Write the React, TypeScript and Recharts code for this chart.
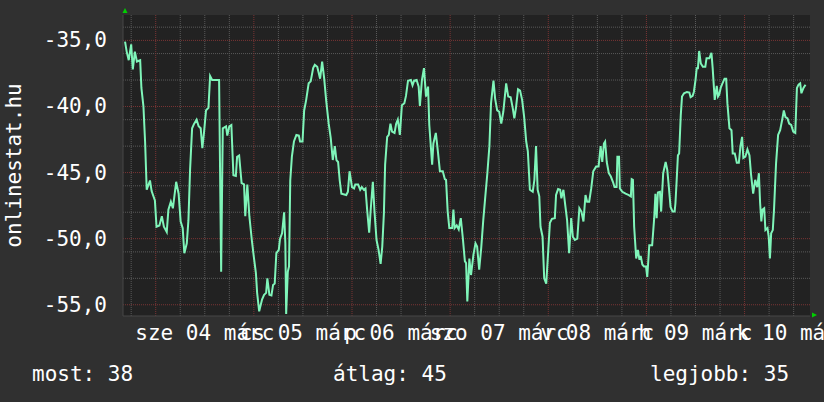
import { LineChart, Line, XAxis, YAxis, CartesianGrid, ReferenceDot } from 'recharts';

// hours from 04 márc 00:00
const hours = [
  -7.5, -7.1, -6.6, -6.0, -5.6, -5.1, -4.6, -3.8, -3.5, -3.0, -2.6, -2.2, -1.4, -1.0, -0.2,
  0.2, 0.9, 1.5, 2.0, 2.7, 3.1, 3.7, 4.2, 5.0, 5.6, 6.1, 6.6, 7.0, 7.6, 8.0, 8.4, 8.9, 9.4,
  10.0, 10.5, 11.0, 11.4, 11.8, 12.3, 12.9, 13.3, 13.8, 15.5, 16.0, 16.4, 17.2, 17.5, 18.0,
  18.5, 19.0, 19.6, 19.9, 20.4, 21.0, 21.6, 21.9, 22.4, 22.9, 23.5, 24.0, 24.5, 24.8, 25.3,
  26.0, 26.5, 27.0, 27.3, 27.8, 28.3, 28.7, 29.1, 29.5, 30.1, 30.4, 30.9, 31.4, 31.7, 31.9,
  32.3, 32.6, 32.9, 33.3, 33.8, 34.4, 35.0, 35.3, 35.9, 36.3, 36.8, 37.4, 37.9, 38.5, 38.9,
  39.5, 40.2, 40.7, 41.2, 41.7, 42.3, 42.8, 43.3, 43.8, 44.2, 44.6, 45.0, 45.4, 46.6, 47.0,
  47.4, 48.0, 48.5, 48.8, 49.5, 50.0, 50.4, 50.9, 51.3, 51.7, 52.2, 52.6, 53.1, 53.5, 54.0,
  54.5, 55.0, 55.4, 55.8, 56.1, 56.6, 57.0, 57.4, 57.8, 58.4, 58.8, 59.2, 59.7,
  60.2, 60.8, 61.2, 61.7, 62.4, 62.8, 63.2, 63.8, 64.3, 64.6, 65.1, 65.6, 66.1, 66.6, 66.9,
  67.6, 67.9, 68.5, 69.0, 69.5, 70.2, 70.7, 71.0, 71.4, 71.8, 72.5, 72.8, 73.1, 73.6, 74.1,
  74.6, 75.1, 75.6, 75.9, 76.2, 76.7, 77.1, 77.7, 78.2, 78.6, 79.1, 79.6, 80.1, 80.6, 81.1,
  81.6, 82.0, 82.6, 83.0, 83.5, 84.0, 84.5, 85.0, 85.7, 86.2, 86.8, 87.3, 87.7, 88.1, 88.6,
  89.1, 89.6, 90.1, 90.6, 91.0, 91.5, 92.2, 92.6, 93.0, 93.4,
  93.8, 94.1, 94.6, 95.0, 95.5, 95.9, 96.4, 96.9, 97.6, 97.9, 98.4, 98.9, 99.2, 99.7, 100.2,
  100.6, 101.1, 101.6, 102.0, 102.5, 103.1, 103.6, 104.1, 104.6, 105.1, 105.5, 106.0, 106.5,
  107.0, 107.7, 108.3, 108.8, 109.2, 109.6, 109.9, 110.3, 110.8, 111.3, 111.8, 112.2, 112.7,
  112.9, 113.3, 113.5, 114.1, 114.9, 115.7, 116.2, 116.4, 116.7, 117.0, 117.5, 117.9, 118.3,
  118.6, 119.0, 119.4, 119.9, 120.2, 120.7, 121.4, 121.9, 122.2, 122.5, 122.8, 123.3, 123.6,
  124.1, 124.7, 125.1, 125.4, 125.9, 126.4, 126.9,
  127.1, 127.4, 127.7, 128.0, 128.4, 128.7, 129.2, 129.9, 130.5, 130.8, 131.3, 131.6, 132.0,
  132.3, 132.6, 132.9, 133.3, 133.8, 134.4, 134.7, 135.4, 135.9, 136.2, 136.7, 137.2, 137.5,
  137.8, 138.2, 138.6, 139.1, 139.5, 139.8, 140.3, 140.8, 141.1, 141.6, 142.1, 142.6, 143.0,
  143.4, 143.7, 144.2, 144.7, 145.2, 145.6, 146.1, 146.6, 147.1, 147.5, 147.8, 148.1, 148.4,
  148.8, 149.1, 149.6, 149.9, 150.2, 150.5, 150.9, 151.2, 151.7, 152.2, 152.7, 153.2, 153.6,
  154.0, 154.5, 154.9, 155.4, 155.9, 156.4, 156.8, 157.2, 157.6, 157.9, 158.4, 158.9,
];

const online = [
  -35.1, -35.85, -36.5, -35.3, -37.2, -35.85, -36.6, -36.5, -38.6, -40.0, -42.65, -46.3, -45.6, -46.4, -47.1,
  -49.1, -49.0, -48.3, -49.1, -49.5, -47.8, -47.2, -47.7, -45.7, -46.6, -48.7, -49.2, -51.1, -50.35, -48.6, -44.8, -41.65, -41.3,
  -41.0, -41.5, -41.65, -43.15, -42.0, -40.3, -40.1, -37.7, -38.0, -38.0, -52.5, -41.65, -41.5, -42.2, -41.5,
  -41.4, -45.2, -45.25, -43.8, -43.7, -45.8, -45.9, -48.3, -45.9, -48.3, -50.1, -51.4, -52.6, -54.1, -55.5,
  -54.6, -54.25, -54.1, -53.0, -54.25, -54.3, -53.5, -53.4, -51.1, -50.85, -50.0, -49.6, -48.0, -50.35, -55.7,
  -52.5, -52.1, -45.6, -43.8, -42.65, -42.15, -42.2, -42.65, -42.65, -40.3, -39.5, -38.25, -38.1, -37.1, -36.85,
  -37.0, -37.9, -36.6, -37.9, -39.6, -41.3, -42.4, -44.05, -43.0, -44.05, -44.2, -45.6, -46.6, -46.7, -46.45,
  -44.9, -46.1, -46.2, -45.9, -45.9, -46.3, -46.1, -46.3, -46.2, -47.8, -49.55, -47.7, -45.7, -47.95, -50.1,
  -50.85, -51.9, -50.6, -48.1, -44.4, -42.3, -42.15, -41.3, -41.9, -42.0, -41.3, -41.0, -42.15,
  -39.9, -39.75, -39.2, -38.05, -38.0, -38.4, -38.05, -38.0, -38.5, -39.95, -38.0, -37.1, -39.25, -38.5, -41.4,
  -44.4, -42.8, -42.0, -43.4, -44.9, -44.9, -45.5, -45.55, -47.95, -49.2, -49.2, -47.8, -49.2, -49.0, -49.3,
  -48.45, -49.95, -51.7, -51.85, -54.75, -51.5, -52.75, -51.2, -50.35, -50.6, -52.35, -50.7, -48.6, -46.8, -45.05,
  -43.0, -39.75, -38.05, -39.4, -40.3, -40.4, -41.3, -40.4, -38.25, -39.25, -39.3, -40.1, -40.9, -40.1, -38.7,
  -38.8, -39.5, -40.8, -42.65, -43.4, -46.3, -46.45, -45.55, -43.0, -46.3,
  -46.8, -49.1, -49.85, -53.0, -53.4, -51.35, -48.8, -48.5, -48.45, -46.7, -46.25, -46.3, -46.95, -46.3, -47.6,
  -48.6, -51.1, -48.45, -49.85, -50.1, -50.0, -47.7, -47.95, -48.7, -46.7, -47.2, -47.2, -46.2,
  -44.9, -44.55, -44.55, -43.0, -44.2, -42.8, -42.65, -44.2, -45.05, -45.3, -45.7, -46.1, -46.1,
  -43.8, -43.8, -46.2, -46.45, -46.6, -46.7, -46.8, -45.5, -45.55, -49.1, -51.5, -50.85, -51.6,
  -51.3, -51.95, -52.1, -52.1, -52.9, -50.5, -50.5, -48.45, -46.6, -48.45, -46.5, -46.45, -47.95,
  -45.05, -44.2, -44.8, -45.8, -47.6, -47.95, -47.95,
  -47.3, -45.55, -43.7, -43.55, -40.65, -39.25, -39.0, -38.9, -38.95, -39.3, -39.2, -38.9, -38.0,
  -37.1, -37.1, -35.8, -36.75, -37.0, -37.0, -36.35, -36.35, -35.95, -37.1, -39.5, -38.45, -39.25,
  -39.1, -38.55, -38.25, -37.9, -37.9, -39.75, -41.65, -41.8, -43.55, -43.55, -44.25, -44.25, -43.0,
  -42.3, -43.9, -43.8, -43.25, -43.7, -45.2, -46.6, -45.55, -46.1, -45.05, -47.3, -48.7, -47.8,
  -47.7, -49.35, -49.2, -49.85, -51.5, -49.6, -49.35, -47.8, -44.3, -42.15, -41.8, -41.0, -40.3,
  -40.8, -40.9, -41.3, -41.4, -41.9, -42.0, -38.6, -38.35, -38.25, -39.0, -38.6, -38.35,
];

const dayTicks = [12, 36, 60, 84, 108, 132, 156];
const dayLabels = ['sze 04 márc', 'cs 05 márc', 'p 06 márc', 'szo 07 márc', 'v 08 márc', 'h 09 márc', 'k 10 márc'];
const valueTicks = [-55, -50, -45, -40, -35];
const stats = ['most: 38', 'átlag: 45', 'legjobb: 35'];

const FONT = 'DejaVu Sans Mono, monospace';

const data = hours.map((h, i) => ({ h, v: online[i] }));

const minorX: number[] = [];
for (let h = -6; h <= 156; h += 6) if (h % 24 !== 0) minorX.push(h);
const majorX: number[] = [];
for (let h = 0; h <= 144; h += 24) majorX.push(h);
const minorY: number[] = [];
for (let v = -55; v <= -34; v++) if (v % 5 !== 0) minorY.push(v);

const DayTick = ({ x, y, payload }: any) => (
  <text x={x} y={y + 22} fill="#ffffff" textAnchor="middle" fontFamily={FONT} fontSize={21}>
    {dayLabels[dayTicks.indexOf(payload.value)]}
  </text>
);

const ValueTick = ({ x, y, payload }: any) => (
  <text x={x} y={y + 7} fill="#ffffff" textAnchor="end" fontFamily={FONT} fontSize={21}>
    {payload.value.toFixed(1).replace('.', ',')}
  </text>
);

const UpArrow = ({ cx, cy }: any) => (
  <polygon points={`${cx + 2},${cy - 7} ${cx - 0.5},${cy - 2} ${cx + 4.5},${cy - 2}`} fill="#00d000" />
);
const RightArrow = ({ cx, cy }: any) => (
  <polygon points={`${cx + 7},${cy - 1} ${cx + 2},${cy - 3.5} ${cx + 2},${cy + 1.5}`} fill="#00d000" />
);

const App = () => {
  return (
    <div style={{ position: 'absolute', left: 0, top: 0, width: 824, height: 402, background: '#303030' }}>
      <LineChart width={824} height={402} data={data} margin={{ top: 15, right: 14, bottom: 0, left: 0 }}>
        <CartesianGrid
          fill="#222222"
          stroke="#5a5a5a"
          strokeDasharray="1 1"
          horizontalValues={minorY}
          verticalValues={minorX}
        />
        <CartesianGrid
          stroke="#7a3434"
          strokeDasharray="1 1"
          horizontalValues={valueTicks}
          verticalValues={majorX}
        />
        <XAxis
          dataKey="h"
          type="number"
          domain={[-8, 160]}
          ticks={dayTicks}
          interval={0}
          height={86}
          tickLine={false}
          tickSize={0}
          axisLine={{ stroke: '#464646' }}
          tick={<DayTick />}
        />
        <YAxis
          type="number"
          domain={[-55.85, -33.08]}
          ticks={valueTicks}
          width={123}
          tickLine={false}
          tickSize={0}
          tickMargin={16}
          axisLine={{ stroke: '#464646' }}
          tick={<ValueTick />}
          label={{
            position: 'insideLeft',
            content: (props: any) => {
              const vb = props.viewBox;
              const cy = vb.y + vb.height / 2;
              const cx = vb.x + 21;
              return (
                <text x={cx} y={cy} transform={`rotate(-90 ${cx} ${cy})`} textAnchor="middle" fill="#ffffff" fontFamily={FONT} fontSize={21}>
                  onlinestat.hu
                </text>
              );
            },
          }}
        />
        <Line
          type="linear"
          dataKey="v"
          stroke="#7ff5b9"
          strokeWidth={2}
          dot={false}
          isAnimationActive={false}
        />
        <ReferenceDot x={-8} y={-33.08} r={0} ifOverflow="visible" shape={(p: any) => <UpArrow {...p} />} />
        <ReferenceDot x={160} y={-55.85} r={0} ifOverflow="visible" shape={(p: any) => <RightArrow {...p} />} />
      </LineChart>
      <svg width={824} height={402} style={{ position: 'absolute', left: 0, top: 0, pointerEvents: 'none' }}>
        {stats.map((s, i) => (
          <text key={s} x={[32, 333, 650][i]} y={381} fill="#ffffff" fontFamily={FONT} fontSize={21}>
            {s}
          </text>
        ))}
      </svg>
    </div>
  );
};

export default App;
